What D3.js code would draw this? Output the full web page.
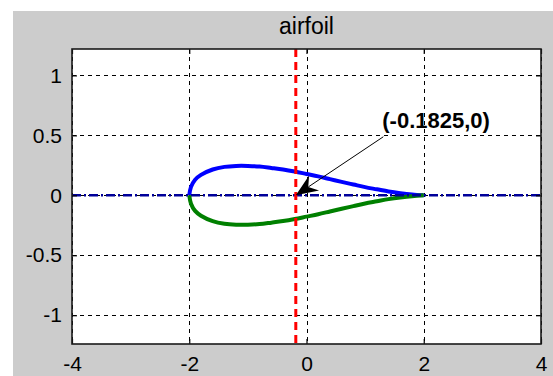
<!DOCTYPE html>
<html>
<head>
<meta charset="utf-8">
<script src="https://cdn.jsdelivr.net/npm/d3@7"></script>
<style>
  html, body { margin: 0; padding: 0; background: #ffffff; }
  svg { display: block; }
  text { font-family: "Liberation Sans", Arial, sans-serif; fill: #000; }
</style>
</head>
<body>
<svg id="chart" width="553" height="376"></svg>
<script>
// ---- data -------------------------------------------------------------
const chartTitle = "airfoil";

// Airfoil contour: chordwise stations and surface ordinates
const chordX = [-2, -1.97, -1.9, -1.8, -1.6, -1.4, -1.2, -1.0, -0.8, -0.6, -0.4, -0.2,
                0, 0.2, 0.4, 0.6, 0.8, 1.0, 1.2, 1.4, 1.6, 1.8, 2.0];
const upperY = [0, 0.07, 0.13, 0.17, 0.215, 0.237, 0.245, 0.245, 0.24, 0.228, 0.215, 0.198,
                0.178, 0.158, 0.135, 0.112, 0.09, 0.068, 0.05, 0.032, 0.018, 0.007, 0];
const lowerY = [0, -0.07, -0.13, -0.17, -0.215, -0.237, -0.245, -0.245, -0.24, -0.228, -0.215, -0.198,
                -0.178, -0.158, -0.135, -0.112, -0.09, -0.068, -0.05, -0.032, -0.018, -0.007, 0];

// Reference lines and marked point
const chordLineY = 0;
const markX = -0.1825;
const markY = 0;
const markLabel = "(-0.1825,0)";
const labelAnchor = [1.31, 0.488];   // where the arrow starts (data units)

// Axes
const xDomain = [-4, 4];
const yDomain = [-1.24, 1.22];
const xTicks = [-4, -2, 0, 2, 4];
const xTickLabels = ["-4", "-2", "0", "2", "4"];
const yTicks = [-1, -0.5, 0, 0.5, 1];
const yTickLabels = ["-1", "-0.5", "0", "0.5", "1"];

// ---- layout -----------------------------------------------------------
const W = 553, H = 376;
const fig = { left: 13, top: 11 };
const plot = { left: 72, right: 541, top: 49, bottom: 344 };

const svg = d3.select("#chart");

svg.append("rect").attr("x", fig.left).attr("y", fig.top)
  .attr("width", W - fig.left).attr("height", H - fig.top).attr("fill", "#cccccc");

const x = d3.scaleLinear().domain(xDomain).range([plot.left, plot.right]);
const y = d3.scaleLinear().domain(yDomain).range([plot.bottom, plot.top]);

svg.append("rect")
  .attr("x", plot.left).attr("y", plot.top)
  .attr("width", plot.right - plot.left).attr("height", plot.bottom - plot.top)
  .attr("fill", "#ffffff");

// grid
const grid = svg.append("g").attr("stroke", "#000").attr("stroke-width", 1)
  .attr("stroke-dasharray", "4,4").attr("fill", "none");
grid.selectAll("line.gx").data(xTicks).join("line").attr("class", "gx")
  .attr("x1", d => Math.round(x(d)) + 0.5).attr("x2", d => Math.round(x(d)) + 0.5)
  .attr("y1", plot.top).attr("y2", plot.bottom);
grid.selectAll("line.gy").data(yTicks).join("line").attr("class", "gy")
  .attr("y1", d => Math.round(y(d)) + 0.5).attr("y2", d => Math.round(y(d)) + 0.5)
  .attr("x1", plot.left).attr("x2", plot.right);

// airfoil surfaces
const upper = chordX.map((cx, i) => [cx, upperY[i]]);
const lower = chordX.map((cx, i) => [cx, lowerY[i]]);
const line = d3.line().x(d => x(d[0])).y(d => y(d[1])).curve(d3.curveCatmullRom.alpha(0.5));

svg.append("path").datum(upper).attr("d", line)
  .attr("fill", "none").attr("stroke", "#0000ff").attr("stroke-width", 4)
  .attr("stroke-linejoin", "round");
svg.append("path").datum(lower).attr("d", line)
  .attr("fill", "none").attr("stroke", "#008000").attr("stroke-width", 4)
  .attr("stroke-linejoin", "round");

// chord line
svg.append("line")
  .attr("x1", x(xDomain[0])).attr("x2", x(xDomain[1]))
  .attr("y1", y(chordLineY)).attr("y2", y(chordLineY))
  .attr("stroke", "#00009a").attr("stroke-width", 2.5)
  .attr("stroke-dasharray", "9,3,2,3");

// vertical reference through the marked point
svg.append("line")
  .attr("x1", x(markX)).attr("x2", x(markX))
  .attr("y1", plot.top).attr("y2", plot.bottom)
  .attr("stroke", "#ff0000").attr("stroke-width", 3)
  .attr("stroke-dasharray", "8,5");

// axes (ticks point inward)
function styleAxis(g) {
  g.select(".domain").remove();
  g.selectAll(".tick line").attr("stroke", "#000").attr("stroke-width", 1.2);
  g.selectAll(".tick text").attr("font-size", 21).attr("fill", "#000")
    .attr("font-family", "'Liberation Sans', Arial, sans-serif");
}
svg.append("g").attr("transform", `translate(0,${plot.bottom})`)
  .call(d3.axisBottom(x).tickValues(xTicks).tickFormat((d, i) => xTickLabels[i])
        .tickSizeInner(-5).tickSizeOuter(0).tickPadding(12))
  .call(styleAxis);
svg.append("g").attr("transform", `translate(0,${plot.top})`)
  .call(d3.axisTop(x).tickValues(xTicks).tickFormat("")
        .tickSizeInner(-5).tickSizeOuter(0))
  .call(styleAxis);
svg.append("g").attr("transform", `translate(${plot.left},0)`)
  .call(d3.axisLeft(y).tickValues(yTicks).tickFormat((d, i) => yTickLabels[i])
        .tickSizeInner(-5).tickSizeOuter(0).tickPadding(10))
  .call(styleAxis);
svg.append("g").attr("transform", `translate(${plot.right},0)`)
  .call(d3.axisRight(y).tickValues(yTicks).tickFormat("")
        .tickSizeInner(-5).tickSizeOuter(0))
  .call(styleAxis);

// frame
svg.append("rect")
  .attr("x", plot.left).attr("y", plot.top)
  .attr("width", plot.right - plot.left).attr("height", plot.bottom - plot.top)
  .attr("fill", "none").attr("stroke", "#1a1a1a").attr("stroke-width", 1.6);

// title
svg.append("text")
  .attr("x", (plot.left + plot.right) / 2).attr("y", 34)
  .attr("text-anchor", "middle").attr("font-size", 23)
  .text(chartTitle);

// annotation arrow
const tail = [x(labelAnchor[0]), y(labelAnchor[1])];
const tip = [x(markX), y(markY)];
const ang = Math.atan2(tip[1] - tail[1], tip[0] - tail[0]);
const headLen = 22, headHalf = 9, notch = 7;
const ux = Math.cos(ang), uy = Math.sin(ang);
const px = -uy, py = ux;
const baseC = [tip[0] - ux * headLen, tip[1] - uy * headLen];
const notchP = [tip[0] - ux * (headLen - notch), tip[1] - uy * (headLen - notch)];

svg.append("line")
  .attr("x1", tail[0]).attr("y1", tail[1])
  .attr("x2", notchP[0]).attr("y2", notchP[1])
  .attr("stroke", "#000").attr("stroke-width", 1);
svg.append("path")
  .attr("d", d3.line()([
    tip,
    [baseC[0] + px * headHalf, baseC[1] + py * headHalf],
    notchP,
    [baseC[0] - px * headHalf, baseC[1] - py * headHalf]
  ]) + "Z")
  .attr("fill", "#000");

svg.append("text")
  .attr("x", tail[0] - 1).attr("y", tail[1] - 9)
  .attr("font-size", 22).attr("font-weight", "bold")
  .text(markLabel);
</script>
</body>
</html>
